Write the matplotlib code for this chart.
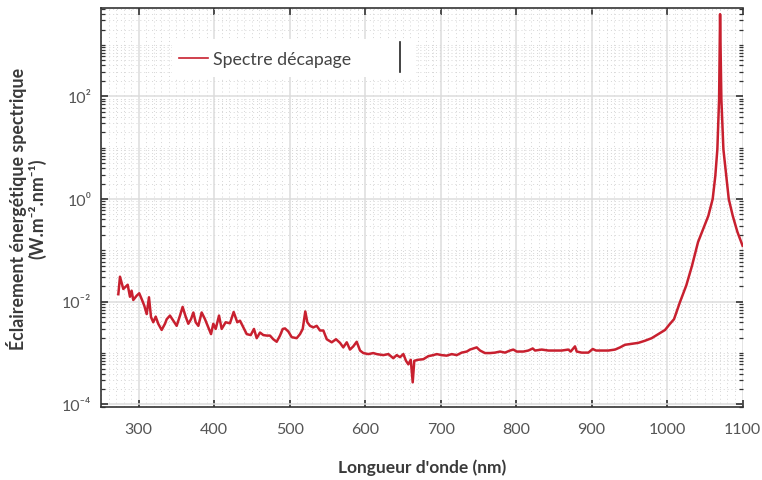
import numpy as np
import matplotlib
matplotlib.use("Agg")
import matplotlib.pyplot as plt
from matplotlib.ticker import LogLocator, FuncFormatter, MultipleLocator, NullFormatter
from matplotlib.patches import Rectangle
from matplotlib.lines import Line2D

plt.rcParams["font.family"] = ["Lato", "DejaVu Sans"]

# longueur d'onde (nm) et éclairement (W.m-2.nm-1)
wavelength = [
    273, 275.2, 279.6, 285.4, 288.4, 290.6, 292.8, 297.3, 300.7, 303.9,
    307.4, 310.6, 313.6, 316.3, 319.3, 322.5, 325.9, 330.4, 334.8, 337.1,
    341.4, 345.8, 350.3, 354.7, 358.2, 362.2, 365.7, 369.3, 372.4, 375.5,
    379.0, 383.4, 387.8, 392.2, 395.8, 398.8, 402.0, 406.4, 409.9, 415.2,
    420.9, 425.8, 430.6, 434.2, 438.6, 443.1, 448.4, 452.7, 456.3, 460.7,
    465.1, 469.6, 473.9, 478.3, 482.8, 487.2, 490.8, 493.8, 498.2, 502.7,
    509.3, 513.7, 517.3, 520.7, 523.4, 526.9, 531.3, 535.8, 540.2, 544.6,
    549.1, 555.7, 561.4, 566.7, 571.0, 575.6, 579.9, 584.3, 588.8, 593.2,
    597.6, 604.2, 610.8, 615.3, 624.0, 630.7, 637.3, 641.8, 646.2, 650.6,
    654.1, 657.2, 660.4, 663.0, 665.1, 670.4, 677.1, 683.7, 690.3, 694.8,
    701.4, 708.0, 714.7, 721.3, 727.9, 734.6, 738.9, 743.3, 747.8, 752.2,
    758.8, 765.4, 772.1, 778.7, 785.3, 791.9, 796.3, 800.8, 809.6, 816.2,
    822.0, 825.1, 833.9, 842.7, 851.6, 860.4, 869.2, 872.3, 878.0, 880.3,
    886.9, 895.7, 901.5, 905.9, 913.4, 922.2, 931.1, 937.7, 944.3, 953.1,
    961.9, 970.8, 979.6, 988.4, 997.3, 1003.9, 1009.2, 1017.0, 1025.5, 1033.0,
    1041.0, 1046.0, 1054.6, 1060.4, 1063.9, 1066.6, 1068.9, 1070.2, 1071.9, 1074.6,
    1081.7, 1087.0, 1093.1, 1100.0,
]
irradiance = [
    1.40e-2, 3.07e-2, 1.77e-2, 2.14e-2, 1.25e-2, 1.64e-2, 1.08e-2, 1.31e-2, 1.46e-2, 1.13e-2,
    8.36e-3, 5.75e-3, 1.22e-2, 5.01e-3, 3.98e-3, 5.13e-3, 3.72e-3, 2.82e-3, 3.72e-3, 4.57e-3,
    5.37e-3, 4.27e-3, 3.39e-3, 5.37e-3, 7.94e-3, 5.13e-3, 3.72e-3, 4.57e-3, 6.17e-3, 3.98e-3,
    3.39e-3, 6.17e-3, 4.57e-3, 3.16e-3, 2.34e-3, 3.72e-3, 2.95e-3, 5.37e-3, 2.95e-3, 3.98e-3,
    3.80e-3, 6.31e-3, 3.98e-3, 4.27e-3, 3.16e-3, 2.34e-3, 2.24e-3, 2.95e-3, 1.95e-3, 2.51e-3,
    2.24e-3, 2.19e-3, 2.19e-3, 1.86e-3, 1.66e-3, 2.19e-3, 2.95e-3, 3.02e-3, 2.63e-3, 2.04e-3,
    1.95e-3, 2.34e-3, 2.95e-3, 6.46e-3, 3.98e-3, 3.39e-3, 3.16e-3, 3.39e-3, 2.75e-3, 2.75e-3,
    1.86e-3, 1.62e-3, 1.86e-3, 1.58e-3, 1.29e-3, 1.62e-3, 1.17e-3, 1.35e-3, 1.66e-3, 1.12e-3,
    1.00e-3, 9.55e-4, 1.00e-3, 9.55e-4, 9.12e-4, 9.55e-4, 7.94e-4, 9.12e-4, 8.32e-4, 9.55e-4,
    7.08e-4, 6.03e-4, 7.41e-4, 2.69e-4, 7.08e-4, 7.41e-4, 7.59e-4, 8.71e-4, 9.12e-4, 9.55e-4,
    9.12e-4, 8.91e-4, 9.55e-4, 9.12e-4, 1.02e-3, 1.07e-3, 1.17e-3, 1.23e-3, 1.29e-3, 1.12e-3,
    1.00e-3, 1.00e-3, 1.02e-3, 1.07e-3, 1.02e-3, 1.12e-3, 1.17e-3, 1.07e-3, 1.07e-3, 1.12e-3,
    1.23e-3, 1.12e-3, 1.17e-3, 1.12e-3, 1.12e-3, 1.12e-3, 1.17e-3, 1.07e-3, 1.35e-3, 1.07e-3,
    1.02e-3, 1.02e-3, 1.20e-3, 1.12e-3, 1.12e-3, 1.12e-3, 1.17e-3, 1.29e-3, 1.45e-3, 1.51e-3,
    1.58e-3, 1.74e-3, 1.95e-3, 2.34e-3, 2.82e-3, 3.72e-3, 4.57e-3, 9.77e-3, 2.09e-2, 5.01e-2,
    0.145, 0.224, 0.468, 1.0, 2.82, 9.3, 89.0, 3980.0, 89.0, 9.3,
    1.0, 0.47, 0.23, 0.123,
]

SUP = str.maketrans("-0123456789", "⁻⁰¹²³⁴⁵⁶⁷⁸⁹")


def sci(v, pos):
    e = int(round(np.log10(v)))
    return "10" + str(e).translate(SUP)


fig = plt.figure(figsize=(7.62, 4.81), dpi=100)
ax = fig.add_axes([0.1325, 0.1518, 0.842, 0.8295])

red = "#c8202f"
ax.plot(wavelength, irradiance, color=red, lw=1.8, zorder=3, label="Spectre décapage")

ax.set_yscale("log")
ax.set_xlim(250, 1100)
ax.set_ylim(10 ** -4.05, 10 ** 3.72)

ax.xaxis.set_major_locator(MultipleLocator(100))
ax.xaxis.set_minor_locator(MultipleLocator(10))
ax.yaxis.set_major_locator(LogLocator(base=100, numticks=20))
ax.yaxis.set_minor_locator(LogLocator(base=10, subs=np.arange(1, 10), numticks=60))
ax.yaxis.set_major_formatter(FuncFormatter(sci))
ax.yaxis.set_minor_formatter(NullFormatter())

ax.grid(which="major", color="#dcdcdc", lw=1.1, ls="-", zorder=0)
ax.grid(which="minor", color="#d6d6d6", lw=0.7, ls=(0, (1, 3)), zorder=0)
ax.set_axisbelow(True)

for s in ["left", "bottom", "top"]:
    ax.spines[s].set_color("#333333")
    ax.spines[s].set_linewidth(1.2)
ax.spines["right"].set_visible(False)

ax.tick_params(axis="x", which="major", direction="in", length=5, width=1.2,
               color="#333333", top=True, labelsize=11.5, labelcolor="#555555", pad=11)
ax.tick_params(axis="x", which="minor", length=0, top=False, bottom=False)
ax.tick_params(axis="y", which="major", direction="in", length=5, width=1.2,
               color="#333333", right=True, labelsize=11.5, labelcolor="#555555", pad=7)
ax.tick_params(axis="y", which="minor", direction="in", length=3, width=0.9,
               color="#333333", right=True)

ax.set_xlabel("Longueur d'onde (nm)", fontsize=12.5, fontweight="bold",
              color="#3a3a3a", labelpad=16)
ax.set_ylabel("Éclairement énergétique spectrique\n(W.m⁻².nm⁻¹)", fontsize=12.8,
              fontweight="bold", color="#3a3a3a", labelpad=11, linespacing=1.1)

# cadre blanc de la légende
ax.add_patch(Rectangle((0.111, 0.827), 0.378, 0.095, transform=ax.transAxes,
                       facecolor="white", edgecolor="none", zorder=2))
ax.add_line(Line2D([0.466, 0.466], [0.84, 0.915], transform=ax.transAxes,
                   color="#222222", lw=1.2, zorder=4))
leg = ax.legend(loc="center left", bbox_to_anchor=(0.121, 0.872), frameon=False,
                fontsize=12.8, handlelength=1.65, handletextpad=0.3,
                borderpad=0, borderaxespad=0)
for t in leg.get_texts():
    t.set_color("#444444")
leg.get_lines()[0].set_linewidth(1.2)

fig.savefig("out.png", dpi=100)
